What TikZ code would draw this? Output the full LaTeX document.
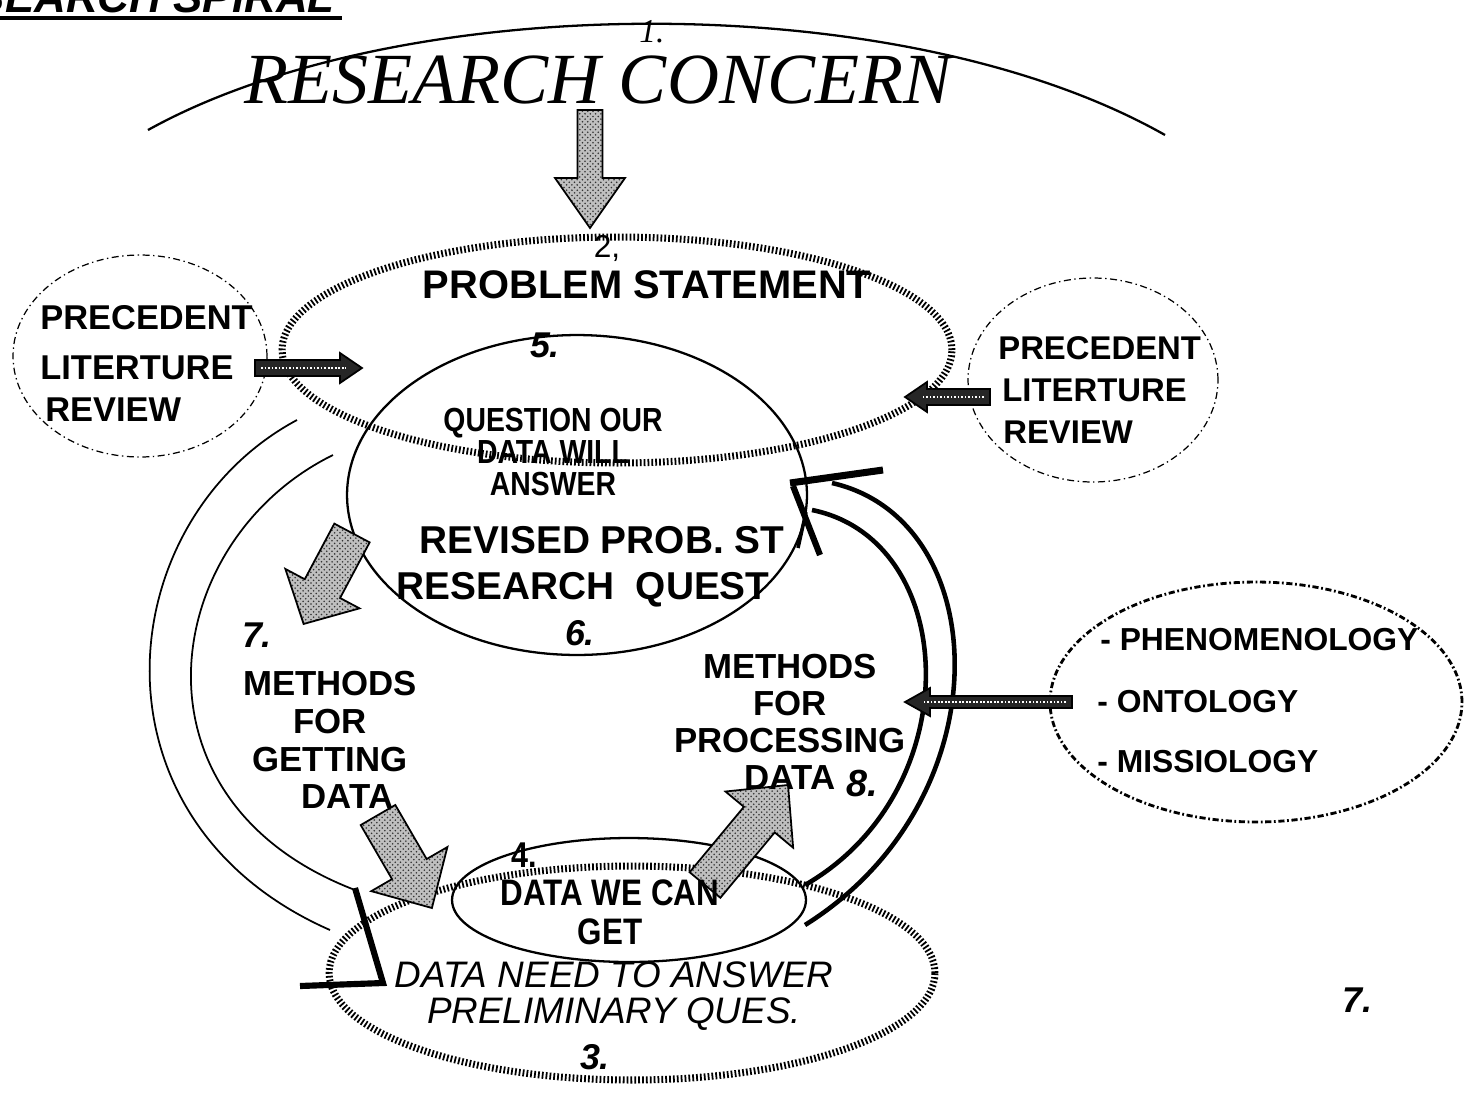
\documentclass[tikz,border=0pt]{standalone}
\usepackage{fontspec}
\setmainfont{Liberation Sans}
\newfontfamily\condfont[FakeStretch=0.85]{Liberation Sans}
\newfontfamily\timesfont{Liberation Serif}
\usetikzlibrary{shapes.geometric,patterns}
\newcommand\fsz[2]{\fontsize{#1pt}{#2pt}\selectfont}
% tail coordinate, angle, length, shaft half width, head half width, head length, style
\newcommand\blockarr[7]{%
  \begin{scope}[shift={(#1)}, rotate=#2]
    \draw[#7] (0,#4) -- ({#3-#6},#4) -- ({#3-#6},#5) -- (#3,0) -- ({#3-#6},-#5) -- ({#3-#6},-#4) -- (0,-#4) -- cycle;
  \end{scope}}
% same, with a light dotted core
\newcommand\blockarrcore[7]{%
  \blockarr{#1}{#2}{#3}{#4}{#5}{#6}{#7}
  \begin{scope}[shift={(#1)}, rotate=#2]
    \draw[white, line width=1.6pt, dash pattern=on 1pt off 1pt] (6,0) -- ({#3-#6+6},0);
  \end{scope}}
\begin{document}
\begin{tikzpicture}[x=0.02cm, y=-0.02cm,
  ell/.style={ellipse, inner sep=0pt, outer sep=0pt},
  hatchl/.style={line width=4pt, dash pattern=on 1pt off 1.2pt},
  methl/.style={line width=1.6pt, dash pattern=on 3.5pt off 1.5pt on 1pt off 1.5pt},
  precl/.style={line width=0.7pt, dash pattern=on 4pt off 2pt on 0.8pt off 2pt},
  solidl/.style={line width=1.3pt},
  thinl/.style={line width=1pt},
  thickl/.style={line width=2.6pt},
  bigarr/.style={draw=black, line width=1pt, preaction={fill=gray!50}, pattern=crosshatch dots, pattern color=black!80},
  smallarr/.style={draw=black, line width=1pt, fill=black!85},
  txt/.style={inner sep=0pt, align=center}]
\useasboundingbox (0,0) rectangle (1467,1110);
\fill[white] (0,0) rectangle (1467,1110);
\clip (0,0) rectangle (1467,1110);

% title (cut off at the top)
\node[txt, anchor=base east, font=\bfseries\itshape\fsz{25}{25}] (title) at (335,12) {RESEARCH SPIRAL};
\draw[line width=2.8pt] (0,18) -- (342,18);

% research concern arc
\draw[solidl] (148,130) .. controls (400,-10) and (900,-15) .. (1165,135);
\node[txt, font=\timesfont\itshape\fsz{19}{19}] (n1) at (652,32) {1.};
\node[txt, font=\timesfont\itshape\fsz{41}{41}] (rc) at (598,80) {RESEARCH CONCERN};

% ellipses
\node[ell, draw, hatchl, minimum width=13.4cm, minimum height=4.52cm] (prob) at (617,350) {};
\node[ell, draw, solidl, minimum width=9.2cm, minimum height=6.4cm] (ques) at (577,495) {};
\node[ell, draw, hatchl, minimum width=12.12cm, minimum height=4.28cm] (dneed) at (632,973) {};
\node[ell, draw, solidl, minimum width=7.08cm, minimum height=2.48cm] (dwc) at (629,900) {};
\node[ell, draw, precl, minimum width=5.08cm, minimum height=4.04cm] (precL) at (140,356) {};
\node[ell, draw, precl, minimum width=5.0cm, minimum height=4.08cm] (precR) at (1093,380) {};
\node[ell, draw, methl, minimum width=8.24cm, minimum height=4.8cm] (meth) at (1256,702) {};

% spiral lines, left
\coordinate (lo1) at (297,420); \coordinate (lo2) at (330,930);
\draw[thinl] (lo1) .. controls (110,520) and (80,820) .. (lo2);
\coordinate (li1) at (333,455); \coordinate (li2) at (355,890);
\draw[thinl] (li1) .. controls (160,540) and (120,800) .. (li2);
\draw[line width=3.5pt, line join=miter] (355,888) -- (383,983) -- (300,986);
% spiral lines, right
\coordinate (ro1) at (832,483); \coordinate (ro2) at (805,925);
\draw[thickl] (ro1) .. controls (995,520) and (1005,800) .. (ro2);
\coordinate (ri1) at (812,510); \coordinate (ri2) at (805,885);
\draw[thickl] (ri1) .. controls (960,540) and (970,790) .. (ri2);
\draw[line width=4pt] (790,483) -- (883,470);
\draw[line width=3.5pt] (793,486) -- (820,555);
\draw[line width=2pt] (806,512) -- (798,548);

% block arrows
\coordinate (a1) at (590,110); \blockarr{a1}{-90}{118}{12.5}{35}{50}{bigarr}
\coordinate (a7) at (352,533); \blockarr{a7}{-118}{103}{20}{42}{40}{bigarr}
\coordinate (ag) at (378,815); \blockarr{ag}{-59.9}{107.5}{20}{44}{45}{bigarr}
\coordinate (a8) at (705,885); \blockarr{a8}{50.3}{130}{20}{44}{45}{bigarr}
\coordinate (al) at (255,368); \blockarrcore{al}{0}{107}{8}{15}{22}{smallarr}
\coordinate (ar) at (990,397); \blockarrcore{ar}{180}{85}{8}{15}{22}{smallarr}
\coordinate (am) at (1072,702); \blockarrcore{am}{180}{167}{6}{14}{25}{smallarr}

% texts
\node[txt, font=\fsz{18}{18}] (n2) at (607,248) {2,};
\node[txt, font=\bfseries\fsz{22.7}{22.7}] (ps) at (647,285) {PROBLEM STATEMENT};
\node[txt, font=\bfseries\itshape\fsz{20.4}{20.4}] (n5) at (545,345) {5.};
\node[txt, font=\condfont\bfseries\fsz{19}{18.1}] (q) at (553,452) {QUESTION OUR\\DATA WILL\\ANSWER};
\node[txt, font=\bfseries\fsz{22.1}{22.1}] (rev) at (602,540) {REVISED PROB. ST};
\node[txt, font=\bfseries\fsz{22.1}{22.1}] (rq) at (583,590) {RESEARCH\ \ QUEST};
\node[txt, font=\bfseries\itshape\fsz{20.4}{20.4}] (n6) at (580,633) {6.};
\node[txt, font=\bfseries\itshape\fsz{20.4}{20.4}] (n7a) at (257,635) {7.};
\node[txt, font=\bfseries\fsz{19.8}{21.5}] (mg) at (330,740) {METHODS\\FOR\\GETTING\\\hspace*{1em}DATA};
\node[txt, font=\bfseries\fsz{19.8}{21}] (mp) at (790,722) {METHODS\\FOR\\PROCESSING\\DATA};
\node[txt, font=\bfseries\itshape\fsz{21.5}{21.5}] (n8) at (862,783) {8.};
\node[txt, font=\condfont\bfseries\fsz{20.4}{20.4}] (n4) at (524,855) {4.};
\node[txt, font=\condfont\bfseries\fsz{21}{22.1}] (dwct) at (610,912) {DATA WE CAN\\GET};
\node[txt, font=\itshape\fsz{21}{20.5}] (dnt) at (614,996) {DATA NEED TO ANSWER\\PRELIMINARY QUES.};
\node[txt, font=\bfseries\itshape\fsz{20.4}{20.4}] (n3) at (595,1057) {3.};
\node[txt, font=\bfseries\itshape\fsz{20.4}{20.4}] (n7b) at (1357,1000) {7.};

\node[txt, anchor=west, font=\bfseries\fsz{19.6}{19.6}] (pl1) at (40,318) {PRECEDENT};
\node[txt, anchor=west, font=\bfseries\fsz{19.6}{19.6}] (pl2) at (40,368) {LITERTURE};
\node[txt, anchor=west, font=\bfseries\fsz{19.6}{19.6}] (pl3) at (45,410) {REVIEW};
\node[txt, anchor=west, font=\bfseries\fsz{18.7}{18.7}] (pr1) at (998,348) {PRECEDENT};
\node[txt, anchor=west, font=\bfseries\fsz{18.7}{18.7}] (pr2) at (1002,390) {LITERTURE};
\node[txt, anchor=west, font=\bfseries\fsz{18.7}{18.7}] (pr3) at (1003,432) {REVIEW};

\node[txt, anchor=west, font=\bfseries\fsz{18.1}{18.1}] (m1) at (1100,640) {- PHENOMENOLOGY};
\node[txt, anchor=west, font=\bfseries\fsz{18.1}{18.1}] (m2) at (1097,702) {- ONTOLOGY};
\node[txt, anchor=west, font=\bfseries\fsz{18.1}{18.1}] (m3) at (1097,762) {- MISSIOLOGY};
\end{tikzpicture}
\end{document}
